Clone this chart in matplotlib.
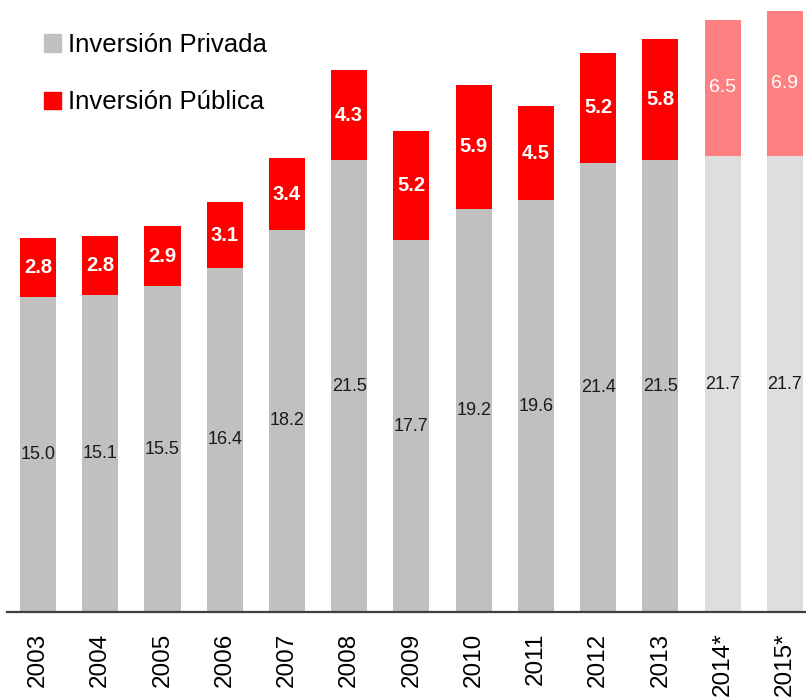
import matplotlib
matplotlib.use("Agg")
import matplotlib.pyplot as plt
import matplotlib.patches as mpatches
import numpy as np

plt.rcParams['font.family'] = ['Liberation Sans', 'DejaVu Sans']

years = ['2003', '2004', '2005', '2006', '2007', '2008', '2009',
         '2010', '2011', '2012', '2013', '2014*', '2015*']
privada = [15.0, 15.1, 15.5, 16.4, 18.2, 21.5, 17.7, 19.2, 19.6, 21.4, 21.5, 21.7, 21.7]
publica = [2.8, 2.8, 2.9, 3.1, 3.4, 4.3, 5.2, 5.9, 4.5, 5.2, 5.8, 6.5, 6.9]
proyectado = [False] * 11 + [True, True]

GRAY, RED = '#c0c0c0', '#ff0000'
GRAY_L, RED_L = '#dedede', '#ff8080'

W, H = 806, 698
fig = plt.figure(figsize=(W / 100, H / 100), dpi=100)
ax = fig.add_axes([7 / W, (H - 612) / H, 1 - 7 / W, 612 / H])

x = np.arange(len(years))
priv_c = [GRAY_L if p else GRAY for p in proyectado]
pub_c = [RED_L if p else RED for p in proyectado]

ax.bar(x, privada, width=0.58, color=priv_c)
ax.bar(x, publica, width=0.58, bottom=privada, color=pub_c)

for i in x:
    ax.text(i, privada[i] / 2, f"{privada[i]:.1f}", ha='center', va='center',
            fontsize=13, color='#1a1a1a')
    if proyectado[i]:
        ax.text(i, privada[i] + publica[i] / 2, f"{publica[i]:.1f}", ha='center',
                va='center', fontsize=14, color='white')
    else:
        ax.text(i, privada[i] + publica[i] / 2, f"{publica[i]:.1f}", ha='center',
                va='center', fontsize=14.5, color='white', fontweight='bold')

ax.set_xlim(-0.498, 12.34)
ax.set_ylim(0, 29.14)
ax.set_xticks(x)
ax.set_xticklabels(years, rotation=90, fontsize=17.5)
ax.tick_params(axis='x', length=0, pad=15)
ax.set_yticks([])
for s in ['left', 'right', 'top']:
    ax.spines[s].set_visible(False)
ax.spines['bottom'].set_color('#404040')
ax.spines['bottom'].set_linewidth(1.6)

handles = [mpatches.Patch(color=GRAY, label='Inversión Privada'),
           mpatches.Patch(color=RED, label='Inversión Pública')]
fig.legend(handles=handles, loc='upper left', bbox_to_anchor=(44 / W, 1 - 33 / H),
           frameon=False, fontsize=18.5, handlelength=0.66, handleheight=0.66,
           handletextpad=0.27, labelspacing=1.3, borderpad=0, borderaxespad=0)

fig.savefig('out.png', dpi=100)
